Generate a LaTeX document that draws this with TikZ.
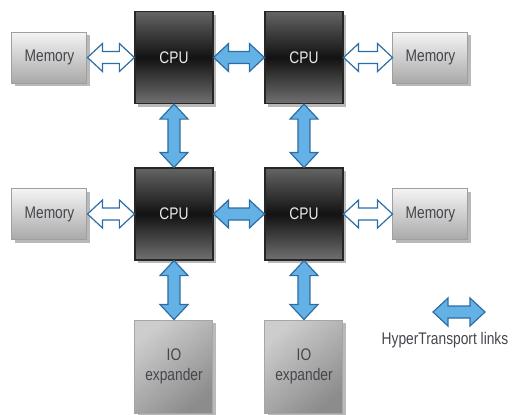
\documentclass[tikz,border=0pt]{standalone}
\usepackage{fontspec}
\usepackage{tikz}
\usetikzlibrary{calc,shadows}
\newfontfamily\htfont[FakeStretch=0.82]{Liberation Sans}
\definecolor{htBlue}{HTML}{63B1E5}
\definecolor{htEdge}{HTML}{2E6DA4}
\definecolor{htInk}{HTML}{45464C}
\definecolor{htCpuTop}{HTML}{646464}
\definecolor{htCpuMid}{HTML}{121212}
\definecolor{htCpuBot}{HTML}{707070}
\definecolor{htMemTop}{HTML}{F4F4F4}
\definecolor{htMemBot}{HTML}{A9A9A9}
\definecolor{htIoLight}{HTML}{CDCDCD}
\definecolor{htIoDark}{HTML}{8C8C8C}
\tikzset{
  htBox/.style={rectangle,inner sep=2pt,align=center,
    font=\htfont\fontsize{8.4}{10}\selectfont,
    drop shadow={shadow xshift=1.6pt,shadow yshift=-1.6pt,fill=gray!55,opacity=1}},
  htCpu/.style={htBox,draw=black!85,line width=0.6pt,
    minimum width=39pt,minimum height=46pt,text=white!92!black,
    top color=htCpuTop,bottom color=htCpuBot,middle color=htCpuMid},
  htMem/.style={htBox,draw=gray!75,line width=0.5pt,
    minimum width=37.5pt,minimum height=25.5pt,text=htInk,
    top color=htMemTop,bottom color=htMemBot},
  htIo/.style={htBox,draw=gray!70,line width=0.5pt,
    minimum width=39pt,minimum height=46.5pt,text=htInk,
    top color=htIoLight,bottom color=htIoDark,shading angle=40},
  htLink/.style={draw=htEdge,fill=htBlue,line width=0.6pt},
  htMemLink/.style={draw=htEdge,fill=white,line width=0.6pt},
  htText/.style={font=\htfont\fontsize{8.4}{10}\selectfont,text=htInk}
}
\newcommand{\htlink}[3]{%
  \draw[#1] (#2)
    -- ($(#2)!7.5pt!(#3)!7pt!90:(#3)$)
    -- ($(#2)!7.5pt!(#3)!3pt!90:(#3)$)
    -- ($(#3)!7.5pt!(#2)!3pt!-90:(#2)$)
    -- ($(#3)!7.5pt!(#2)!7pt!-90:(#2)$)
    -- (#3)
    -- ($(#3)!7.5pt!(#2)!7pt!90:(#2)$)
    -- ($(#3)!7.5pt!(#2)!3pt!90:(#2)$)
    -- ($(#2)!7.5pt!(#3)!3pt!-90:(#3)$)
    -- ($(#2)!7.5pt!(#3)!7pt!-90:(#3)$)
    -- cycle;}

\begin{document}
\begin{tikzpicture}[x=0.5pt,y=0.5pt]
\path[use as bounding box] (0,0) rectangle (516,-414);
\node[htCpu] (cpuA) at (174,-57.5) {CPU};
\node[htCpu] (cpuB) at (304,-57.5) {CPU};
\node[htCpu] (cpuC) at (174,-214) {CPU};
\node[htCpu] (cpuD) at (304,-214) {CPU};
\node[htMem] (memA) at (49.5,-57.5) {Memory};
\node[htMem] (memB) at (430.5,-57.5) {Memory};
\node[htMem] (memC) at (49.5,-214) {Memory};
\node[htMem] (memD) at (430.5,-214) {Memory};
\node[htIo] (ioA) at (174,-366.5) {IO\\expander};
\node[htIo] (ioB) at (304,-366.5) {IO\\expander};
\coordinate (legL) at (433,-312);
\coordinate (legR) at (485,-312);
\node[htText] (legend) at (445,-340) {HyperTransport links};
\htlink{htMemLink}{memA.east}{cpuA.west}
\htlink{htMemLink}{cpuB.east}{memB.west}
\htlink{htMemLink}{memC.east}{cpuC.west}
\htlink{htMemLink}{cpuD.east}{memD.west}
\htlink{htLink}{cpuA.east}{cpuB.west}
\htlink{htLink}{cpuC.east}{cpuD.west}
\htlink{htLink}{cpuA.south}{cpuC.north}
\htlink{htLink}{cpuB.south}{cpuD.north}
\htlink{htLink}{cpuC.south}{ioA.north}
\htlink{htLink}{cpuD.south}{ioB.north}
\htlink{htLink}{legL}{legR}
\end{tikzpicture}
\end{document}
